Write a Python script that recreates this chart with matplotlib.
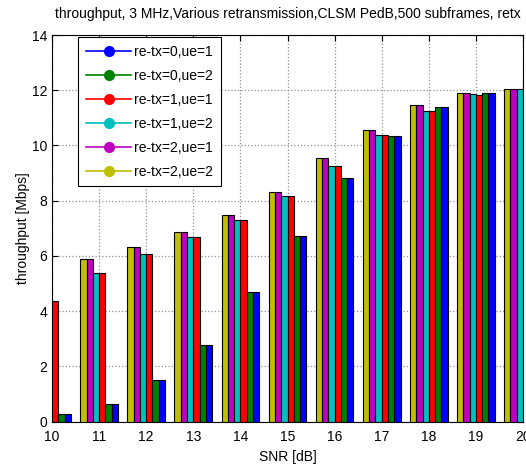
import matplotlib
matplotlib.use("Agg")
import matplotlib.pyplot as plt
from matplotlib.lines import Line2D
import numpy as np

plt.rcParams['font.family'] = ['Liberation Sans', 'DejaVu Sans']

snr = [10, 11, 12, 13, 14, 15, 16, 17, 18, 19, 20]

# series values (Mbps)
rt0_ue1 = [0.27, 0.65, 1.50, 2.79, 4.69, 6.74, 8.84, 10.34, 11.40, 11.91, 12.04]
rt0_ue2 = [0.27, 0.65, 1.50, 2.79, 4.69, 6.74, 8.84, 10.34, 11.40, 11.91, 12.04]
rt1_ue1 = [4.37, 5.38, 6.06, 6.70, 7.31, 8.18, 9.27, 10.37, 11.26, 11.84, 12.04]
rt1_ue2 = [4.40, 5.38, 6.06, 6.70, 7.31, 8.18, 9.27, 10.37, 11.26, 11.86, 12.04]
rt2_ue1 = [4.60, 5.90, 6.33, 6.85, 7.50, 8.33, 9.55, 10.55, 11.46, 11.91, 12.04]
rt2_ue2 = [4.60, 5.90, 6.33, 6.85, 7.50, 8.33, 9.55, 10.55, 11.46, 11.91, 12.04]

labels = ['re-tx=0,ue=1', 're-tx=0,ue=2', 're-tx=1,ue=1',
          're-tx=1,ue=2', 're-tx=2,ue=1', 're-tx=2,ue=2']
colors = ['#0000ff', '#008000', '#ff0000', '#00bfbf', '#bf00bf', '#bfbf00']
series = [rt0_ue1, rt0_ue2, rt1_ue1, rt1_ue2, rt2_ue1, rt2_ue2]

fig = plt.figure(figsize=(5.26, 4.68), dpi=100)
ax = fig.add_axes([52/526, 1-421.7/468, (523-52)/526, (421.7-35)/468])

# bar order within group (left to right): re-tx=2,ue=2 ... re-tx=0,ue=1
order = [5, 4, 3, 2, 1, 0]
n = len(order)
w = 0.8 / n
x = np.array(snr, dtype=float)
for pos, idx in enumerate(order):
    off = (pos - (n - 1) / 2) * w
    ax.bar(x + off, series[idx], width=w, color=colors[idx],
           edgecolor='black', linewidth=0.8, zorder=3)

ax.set_xlim(10, 20)
ax.set_ylim(0, 14)
ax.set_xticks(snr)
ax.set_yticks(np.arange(0, 15, 2))
ax.tick_params(direction='in', top=True, right=True, labelsize=10, length=4)
ax.tick_params(axis='x', pad=6)
ax.grid(True, color='#909090', linestyle=':', linewidth=0.9, zorder=0)
ax.set_axisbelow(True)
for s in ax.spines.values():
    s.set_linewidth(0.8)

ax.set_title('throughput, 3 MHz,Various retransmission,CLSM PedB,500 subframes, retx',
             fontsize=10, pad=12)
ax.set_xlabel('SNR [dB]', fontsize=10, labelpad=4)
ax.set_ylabel('throughput [Mbps]', fontsize=10, labelpad=1)

handles = [Line2D([0], [0], color=c, marker='o', markersize=7, linewidth=1.2)
           for c in colors]
leg = ax.legend(handles, labels, loc='upper left',
                bbox_to_anchor=((78-52)/471, (421.7-37)/386.7),
                fontsize=10, frameon=True, fancybox=False, edgecolor='black',
                framealpha=1, handlelength=3.3, handletextpad=0.2,
                labelspacing=0.72, borderpad=0.55, borderaxespad=0)
leg.get_frame().set_linewidth(0.8)

fig.savefig('out.png', dpi=100)
